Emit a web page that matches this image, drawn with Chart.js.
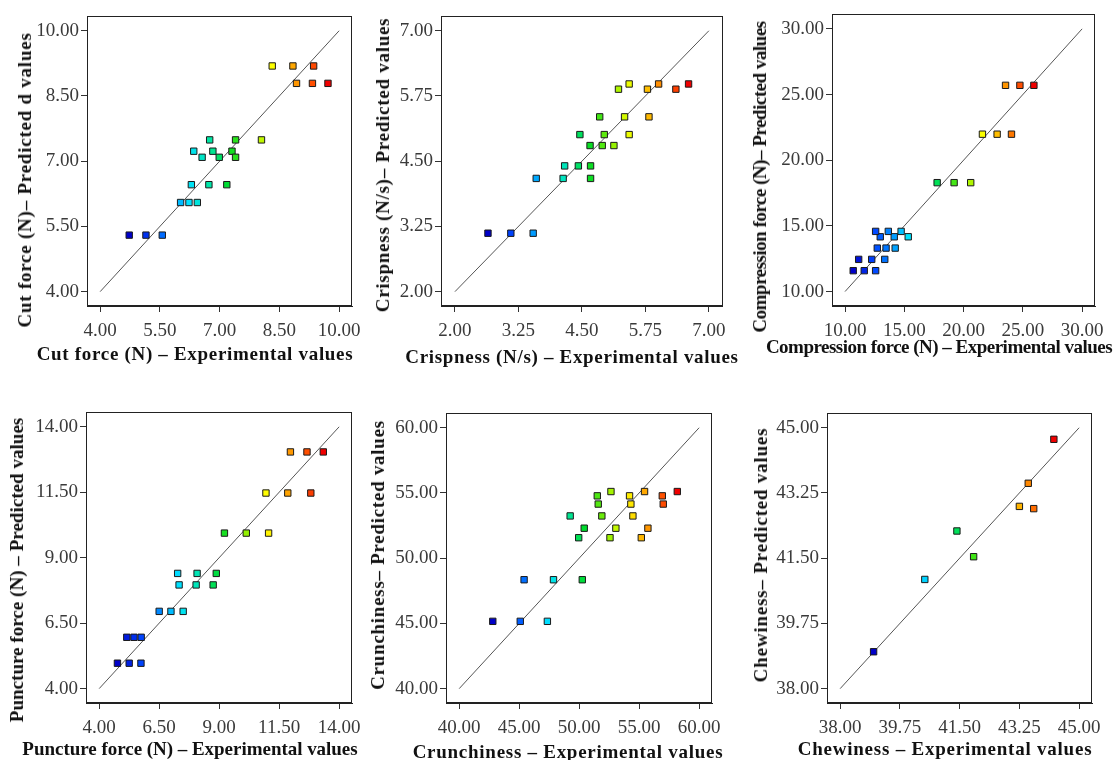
<!DOCTYPE html>
<html>
<head>
<meta charset="utf-8">
<script src="https://cdn.jsdelivr.net/npm/chart.js@4.4.1/dist/chart.umd.min.js"></script>
<style>
  body { margin: 0; background: #fff; width: 1113px; height: 760px; position: relative; overflow: hidden; font-family: "Liberation Serif", serif; }
  canvas { position: absolute; }
  .ttl { position: absolute; font-weight: bold; font-size: 19px; color: #111; white-space: nowrap; transform: translate(-50%, -50%); }
  .ttl.y { transform: translate(-50%, -50%) rotate(-90deg); }
</style>
</head>
<body>
<script>
// Cut force (N)
const cutExp  = [4.73, 5.15, 5.56, 6.02, 6.23, 6.44, 6.29, 6.73, 7.18, 6.35, 6.56, 6.83, 6.99, 7.31, 7.40, 6.75, 7.40, 8.05, 8.32, 8.84, 9.36, 8.93, 9.33, 9.72];
const cutPred = [5.30, 5.30, 5.30, 6.05, 6.05, 6.05, 6.46, 6.46, 6.46, 7.23, 7.09, 7.23, 7.09, 7.23, 7.09, 7.49, 7.49, 7.49, 9.19, 9.19, 9.19, 8.79, 8.79, 8.79];
const cutTicks = [4.00, 5.50, 7.00, 8.50, 10.00];

// Crispness (N/s)
const crispExp  = [2.65, 3.10, 3.54, 3.60, 4.13, 4.67, 4.16, 4.43, 4.67, 4.66, 4.90, 5.13, 4.46, 4.94, 5.43, 4.85, 5.34, 5.82, 5.22, 5.79, 6.35, 5.43, 6.01, 6.60];
const crispPred = [3.12, 3.12, 3.12, 4.17, 4.17, 4.17, 4.41, 4.41, 4.41, 4.80, 4.80, 4.80, 5.01, 5.01, 5.01, 5.35, 5.35, 5.35, 5.88, 5.88, 5.88, 5.98, 5.98, 5.98];
const crispTicks = [2.00, 3.25, 4.50, 5.75, 7.00];

// Compression force (N)
const compExp  = [10.69, 11.62, 12.58, 11.15, 12.25, 13.35, 12.72, 13.46, 14.23, 12.97, 14.15, 15.33, 12.58, 13.65, 14.73, 17.77, 19.20, 20.60, 21.59, 22.83, 24.04, 23.54, 24.75, 25.93];
const compPred = [11.59, 11.59, 11.59, 12.45, 12.45, 12.45, 13.31, 13.31, 13.31, 14.17, 14.17, 14.17, 14.58, 14.58, 14.58, 18.29, 18.29, 18.29, 21.98, 21.98, 21.98, 25.70, 25.70, 25.70];
const compTicks = [10.00, 15.00, 20.00, 25.00, 30.00];

// Puncture force (N)
const puncExp  = [4.76, 5.25, 5.74, 5.15, 5.45, 5.75, 6.50, 6.99, 7.50, 7.27, 8.08, 8.88, 7.33, 8.04, 8.75, 9.22, 10.13, 11.06, 10.95, 11.86, 12.82, 11.97, 12.66, 13.34];
const puncPred = [4.97, 4.97, 4.97, 5.96, 5.96, 5.96, 6.95, 6.95, 6.95, 8.40, 8.40, 8.40, 7.96, 7.96, 7.96, 9.94, 9.94, 9.94, 11.47, 11.47, 11.47, 13.04, 13.04, 13.04];
const puncTicks = [4.00, 6.50, 9.00, 11.50, 14.00];

// Crunchiness
const crunExp  = [42.80, 45.09, 47.35, 45.41, 47.86, 50.26, 49.96, 52.57, 55.18, 50.42, 53.06, 55.73, 49.25, 51.89, 54.48, 51.59, 54.31, 57.01, 51.51, 54.20, 56.93, 52.65, 55.45, 58.18];
const crunPred = [45.16, 45.16, 45.16, 48.35, 48.35, 48.35, 51.57, 51.57, 51.57, 52.30, 52.30, 52.30, 53.24, 53.24, 53.24, 54.15, 54.15, 54.15, 54.78, 54.78, 54.78, 55.11, 55.11, 55.11];
const crunTicks = [40.00, 45.00, 50.00, 55.00, 60.00];

// Chewiness
const chewExp  = [38.98, 40.48, 41.42, 41.91, 43.25, 43.51, 43.67, 44.26];
const chewPred = [38.99, 40.93, 42.23, 41.54, 42.89, 43.51, 42.83, 44.69];
const chewTicks = [38.00, 39.75, 41.50, 43.25, 45.00];

// box = plot frame [left, top, right, bottom]; xPos/yPos = title centre, xLen/yLen = title length
const panels = [
  { exp: cutExp, pred: cutPred, ticks: cutTicks, box: [87, 13, 359, 306],
    xTitle: "Cut force (N) \u2013 Experimental values", yTitle: "Cut force (N)\u2013 Predicted d values",
    xPos: [195, 354], yPos: [25, 180], xLen: 317, yLen: 295 },
  { exp: crispExp, pred: crispPred, ticks: crispTicks, box: [441, 13, 724, 306],
    xTitle: "Crispness (N/s) \u2013 Experimental values", yTitle: "Crispness (N/s)\u2013 Predicted values",
    xPos: [572, 357], yPos: [383, 165], xLen: 333, yLen: 294 },
  { exp: compExp, pred: compPred, ticks: compTicks, box: [832, 11, 1102, 306],
    xTitle: "Compression force (N) \u2013 Experimental values", yTitle: "Compression force (N)\u2013 Predicted values",
    xPos: [939, 347], yPos: [760, 177], xLen: 346, yLen: 311 },
  { exp: puncExp, pred: puncPred, ticks: puncTicks, box: [86, 409, 359, 703],
    xTitle: "Puncture force (N) \u2013 Experimental values", yTitle: "Puncture force (N) \u2013 Predicted values",
    xPos: [190, 749], yPos: [17, 570], xLen: 336, yLen: 304 },
  { exp: crunExp, pred: crunPred, ticks: crunTicks, box: [446, 410, 719, 703],
    xTitle: "Crunchiness \u2013 Experimental values", yTitle: "Crunchiness\u2013 Predicted values",
    xPos: [568, 752], yPos: [378, 555], xLen: 311, yLen: 270 },
  { exp: chewExp, pred: chewPred, ticks: chewTicks, box: [827, 410, 1099, 703],
    xTitle: "Chewiness \u2013 Experimental values", yTitle: "Chewiness\u2013 Predicted values",
    xPos: [945, 749], yPos: [761, 555], xLen: 295, yLen: 255 }
];

// blue -> cyan -> green -> yellow -> red, like the design software
const stops = [
  [0, [0, 0, 200]], [0.12, [0, 70, 255]], [0.22, [0, 150, 255]], [0.3, [0, 225, 255]],
  [0.4, [0, 230, 170]], [0.5, [0, 220, 40]], [0.62, [140, 240, 0]], [0.72, [255, 255, 0]],
  [0.82, [255, 170, 0]], [0.92, [255, 80, 0]], [1, [240, 0, 0]]
];
function jet(t) {
  t = Math.max(0, Math.min(1, t));
  for (let i = 1; i < stops.length; i++) {
    if (t <= stops[i][0]) {
      const [t0, c0] = stops[i - 1], [t1, c1] = stops[i];
      const f = (t - t0) / (t1 - t0);
      const c = c0.map((v, k) => Math.round(v + (c1[k] - v) * f));
      return `rgb(${c[0]},${c[1]},${c[2]})`;
    }
  }
  return "rgb(240,0,0)";
}

const framePlugin = {
  id: "frame",
  beforeDatasetsDraw(chart) {
    const { ctx, chartArea: a } = chart;
    ctx.save();
    ctx.strokeStyle = "#222";
    ctx.lineWidth = 1;
    ctx.strokeRect(Math.round(a.left) + 0.5, Math.round(a.top) + 0.5, Math.round(a.width) - 1, Math.round(a.height) - 1);
    ctx.restore();
  }
};

const PADL = 80, PADT = 10, PADR = 10, PADB = 40;

function addTitle(text, pos, len, cls) {
  const el = document.createElement("div");
  el.className = cls;
  el.textContent = text;
  el.style.left = pos[0] + "px";
  el.style.top = pos[1] + "px";
  document.body.appendChild(el);
  // stretch or squeeze the letters so the title is as long as in the figure
  const w = el.offsetWidth;
  el.style.letterSpacing = ((len - w) / text.length).toFixed(2) + "px";
}

panels.forEach(p => {
  const [l, t, r, b] = p.box;
  const canvas = document.createElement("canvas");
  canvas.width = r - l + PADL + PADR;
  canvas.height = b - t + PADT + PADB;
  canvas.style.left = (l - PADL) + "px";
  canvas.style.top = (t - PADT) + "px";
  document.body.appendChild(canvas);

  const lo = p.ticks[0], hi = p.ticks[p.ticks.length - 1];
  const pad = (hi - lo) * 0.055;
  const eMin = Math.min(...p.exp), eMax = Math.max(...p.exp);
  const points = p.exp.map((x, i) => ({ x: x, y: p.pred[i] }));

  const axis = (fit, padding) => ({
    type: "linear",
    min: lo - pad,
    max: hi + pad,
    afterBuildTicks: s => { s.ticks = p.ticks.map(v => ({ value: v })); },
    afterFit: fit,
    ticks: {
      autoSkip: false, maxRotation: 0, padding: padding, color: "#3a3a3a",
      font: { family: "Liberation Serif", size: 19 },
      callback: v => v.toFixed(2)
    },
    grid: { drawOnChartArea: false, tickLength: 6, color: "#333" },
    border: { color: "#222" }
  });

  new Chart(canvas.getContext("2d"), {
    type: "scatter",
    data: {
      datasets: [
        {
          data: points,
          pointStyle: "rect",
          pointRadius: 4.5,
          borderColor: "#1a1a1a",
          borderWidth: 1,
          backgroundColor: ctx => jet((ctx.raw.x - eMin) / (eMax - eMin))
        },
        {
          data: [{ x: lo, y: lo }, { x: hi, y: hi }],
          showLine: true,
          pointRadius: 0,
          borderColor: "#555",
          borderWidth: 1
        }
      ]
    },
    options: {
      responsive: false,
      animation: false,
      layout: { padding: { top: PADT, right: PADR, left: 0, bottom: 0 } },
      plugins: { legend: { display: false }, tooltip: { enabled: false } },
      scales: {
        x: axis(s => { s.height = PADB; }, 8),
        y: axis(s => { s.width = PADL; }, 2)
      }
    },
    plugins: [framePlugin]
  });

  addTitle(p.xTitle, p.xPos, p.xLen, "ttl");
  addTitle(p.yTitle, p.yPos, p.yLen, "ttl y");
});
</script>
</body>
</html>
